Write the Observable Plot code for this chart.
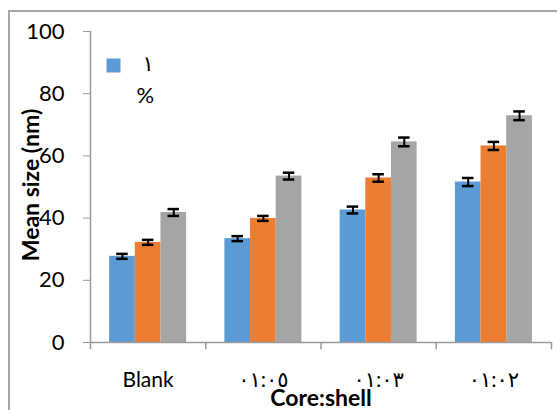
<!DOCTYPE html>
<html>
<head>
<meta charset="utf-8">
<script src="https://cdn.jsdelivr.net/npm/d3@7"></script>
<script src="https://cdn.jsdelivr.net/npm/@observablehq/plot@0.6"></script>
<style>
  html, body { margin: 0; padding: 0; background: #fff; overflow: hidden; }
  #wrap { position: relative; width: 557px; height: 410px; }
  #border { position: absolute; left: 8px; top: 10px; width: 560px; height: 420px;
            border-left: 2px solid #a6a6a6; border-top: 2px solid #a6a6a6; box-sizing: border-box; }
  #chart { position: absolute; left: 0; top: 0; }
</style>
</head>
<body>
<div id="wrap"><div id="border"></div><div id="chart"></div></div>
<script>
const categories = ["Blank", "٠١:٠٥", "٠١:٠٣", "٠١:٠٢"];
const seriesNames = ["s1", "s2", "s3"];
const seriesColors = ["#5B9BD5", "#ED7D31", "#A5A5A5"];
const s1Values = [27.7, 33.4, 42.6, 51.6];
const s2Values = [32.2, 39.9, 52.9, 63.2];
const s3Values = [41.8, 53.5, 64.5, 72.9];
const s1Errors = [0.8, 0.8, 1.1, 1.3];
const s2Errors = [0.8, 0.8, 1.2, 1.3];
const s3Errors = [1.1, 1.1, 1.4, 1.4];
const yTicks = [0, 20, 40, 60, 80, 100];
const legendLines = ["١", "%"];
const xTitle = "Core:shell";
const yTitle = "Mean size (nm)";

const values = [s1Values, s2Values, s3Values];
const errors = [s1Errors, s2Errors, s3Errors];
const groupWidth = 0.668;
const barW = groupWidth / seriesNames.length;

const data = [];
categories.forEach((c, i) => {
  seriesNames.forEach((s, j) => {
    const x1 = i - groupWidth / 2 + j * barW;
    data.push({cat: c, i, series: s, color: seriesColors[j], value: values[j][i], err: errors[j][i],
               x1, x2: x1 + barW, xc: x1 + barW / 2});
  });
});
const boundaries = d3.range(categories.length + 1).map(k => k - 0.5);
const font = "Lato, 'DejaVu Sans', sans-serif";
const axisColor = "#9a9a9a";

const chart = Plot.plot({
  width: 557,
  height: 410,
  marginLeft: 90,
  marginRight: 6,
  marginTop: 31,
  marginBottom: 68,
  style: {fontFamily: font, background: "transparent", overflow: "visible"},
  x: {type: "linear", domain: [-0.5, categories.length - 0.5], axis: null},
  y: {domain: [0, 100], axis: null},
  marks: [
    Plot.rectY(data, {x1: "x1", x2: "x2", y1: 0, y2: "value", fill: "color"}),
    Plot.ruleX(data, {x: "xc", y1: d => d.value - d.err, y2: d => d.value + d.err, stroke: "#000", strokeWidth: 2}),
    Plot.ruleY(data, {y: d => d.value - d.err, x1: d => d.xc - 0.05, x2: d => d.xc + 0.05, stroke: "#000", strokeWidth: 2.5}),
    Plot.ruleY(data, {y: d => d.value + d.err, x1: d => d.xc - 0.05, x2: d => d.xc + 0.05, stroke: "#000", strokeWidth: 2.5}),
    // axes lines
    Plot.ruleX([-0.5], {y1: 0, y2: 100, stroke: axisColor, strokeWidth: 1.5}),
    Plot.ruleY([0], {x1: -0.5, x2: categories.length - 0.5, stroke: axisColor, strokeWidth: 1.5}),
    Plot.ruleX(boundaries, {y1: 0, y2: -2.3, stroke: axisColor, strokeWidth: 1.5}),
    Plot.axisY(yTicks, {ticks: yTicks, tickSize: 7, tickPadding: 19, stroke: axisColor, fill: "#000",
      fontSize: 22, label: null, tickFormat: d => String(d)}),
    Plot.axisX(d3.range(categories.length), {ticks: d3.range(categories.length), tickSize: 0, tickPadding: 30,
      fontSize: 21, fill: "#000", label: null, tickFormat: i => categories[i]}),
    Plot.text([xTitle], {frameAnchor: "bottom", dy: 56, fontSize: 23, fontWeight: "bold", fill: "#000", lineAnchor: "middle"}),
    Plot.text([yTitle], {frameAnchor: "left", dx: -59, dy: -2, rotate: -90, fontSize: 23, fontWeight: "bold", fill: "#000", textAnchor: "middle", lineAnchor: "middle"}),
    // legend
    Plot.dot([seriesNames[0]], {frameAnchor: "top-left", dx: 23, dy: 34, symbol: "square", r: 7.9, fill: seriesColors[0], stroke: "none"}),
    Plot.text([legendLines[0]], {frameAnchor: "top-left", dx: 52, dy: 33, fontSize: 21, fill: "#000", lineAnchor: "middle"}),
    Plot.text([legendLines[1]], {frameAnchor: "top-left", dx: 46, dy: 64, fontSize: 22, fill: "#000", lineAnchor: "middle"})
  ]
});
document.getElementById("chart").appendChild(chart);
</script>
</body>
</html>
